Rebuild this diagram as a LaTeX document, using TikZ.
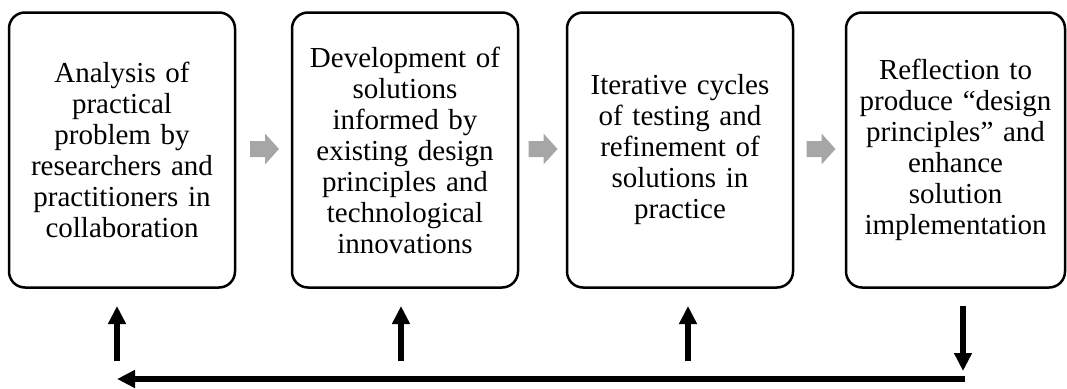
\documentclass[tikz,border=0pt]{standalone}
\usepackage{fontspec}
\setmainfont{Liberation Serif}
\usetikzlibrary{arrows.meta}

\definecolor{flowgrey}{HTML}{A6A6A6}

\tikzset{
  stagebox/.style={draw=black, line width=2.5pt, rounded corners=16pt,
    minimum width=226pt, minimum height=275pt, inner sep=0pt,
    text width=214pt, align=center,
    font=\fontsize{29pt}{31pt}\selectfont},
  flowarrow/.style={fill=flowgrey, draw=none},
  loopline/.style={line width=6pt, -{Triangle[width=17pt,length=18pt]}}
}

\begin{document}
\begin{tikzpicture}[x=1pt,y=-1pt]
\useasboundingbox (0,0) rectangle (1067,388);

% the four stages
\node[stagebox] (s1) at (122,150) {Analysis of\\practical\\problem by\\researchers and\\practitioners in\\collaboration};
\node[stagebox] (s2) at (405,150) {Development of\\solutions\\informed by\\existing design\\principles and\\technological\\innovations};
\node[stagebox] (s3) at (680,150) {Iterative cycles\\of testing and\\refinement of\\solutions in\\practice};
\node[stagebox, minimum width=219pt] (s4) at (955.5,150) {Reflection to\\produce “design\\principles” and\\enhance\\solution\\implementation};

% grey block arrows between the stages
\foreach \x in {250, 528.5, 806.5} {
  \fill[flowarrow] (\x,141) -- ++(15,0) -- ++(0,-7.5) -- ++(14,15.5)
    -- ++(-14,15.5) -- ++(0,-7.5) -- ++(-15,0) -- cycle;
}

% feedback loop below the stages
\coordinate (d4top) at (963,306);
\coordinate (d4end) at (963,371);
\coordinate (loopR) at (965,379);
\coordinate (loopL) at (117,379);
\foreach \n/\x in {1/117, 2/401, 3/688} {
  \coordinate (u\n bot) at (\x,361);
  \coordinate (u\n top) at (\x,306);
}

\draw[loopline] (d4top) -- (d4end);
\draw[loopline] (loopR) -- (loopL);
\draw[loopline] (u1bot) -- (u1top);
\draw[loopline] (u2bot) -- (u2top);
\draw[loopline] (u3bot) -- (u3top);
\end{tikzpicture}
\end{document}
